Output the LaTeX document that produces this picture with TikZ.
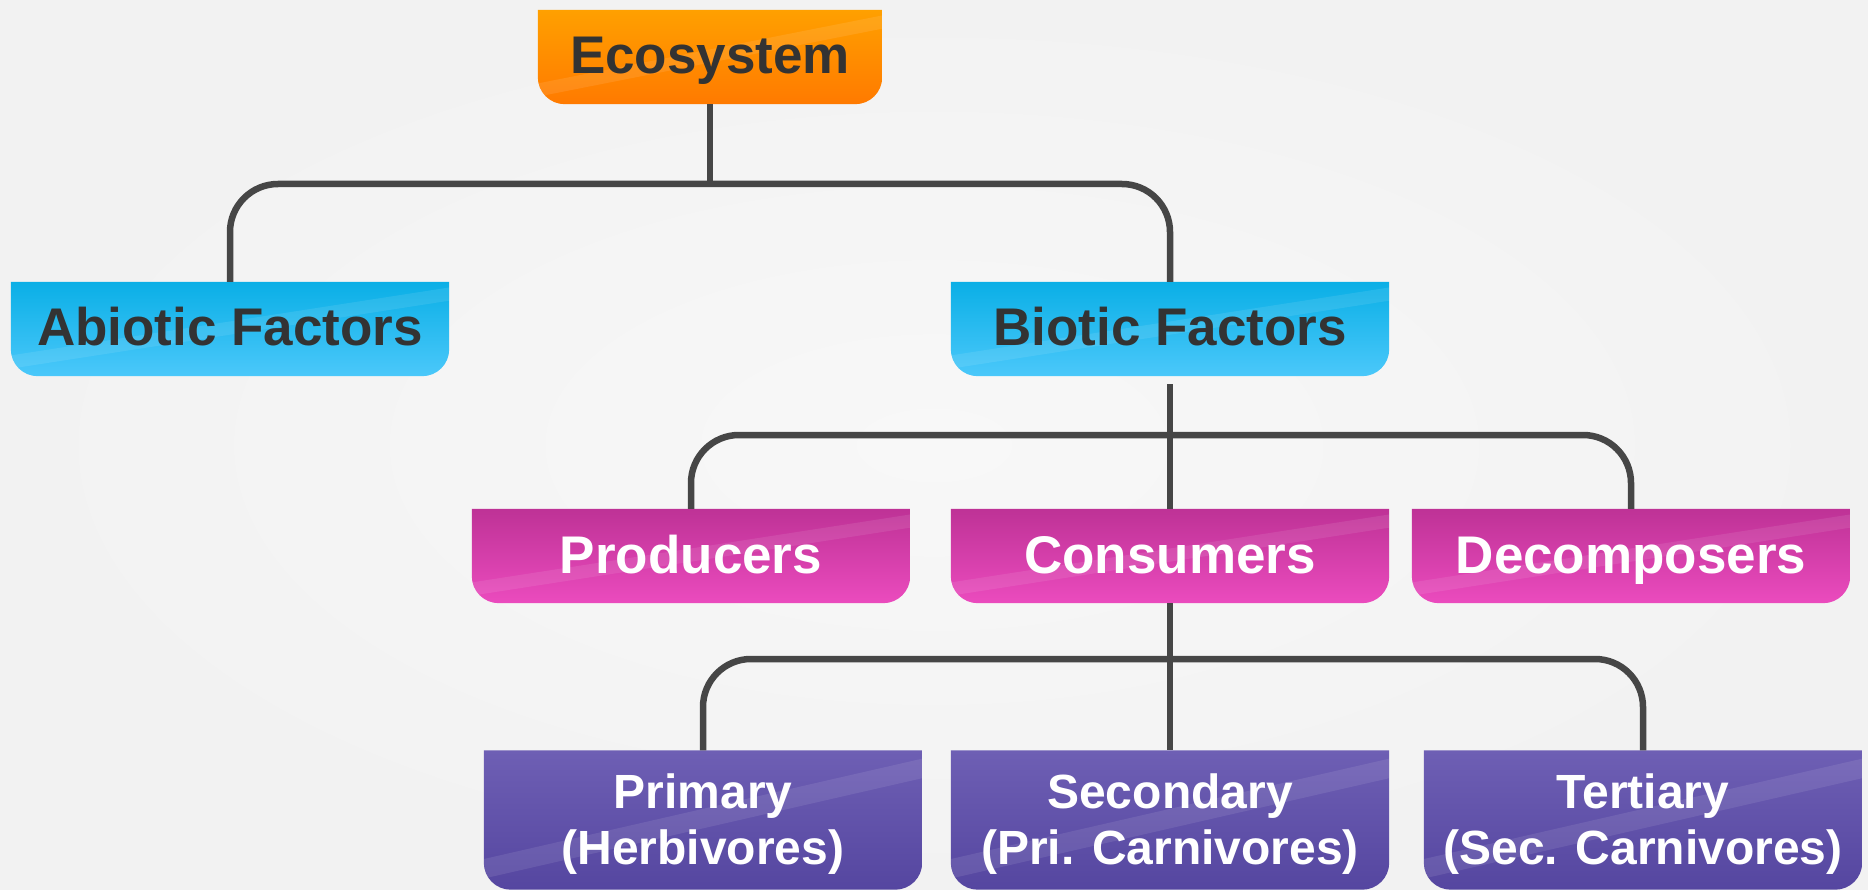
\documentclass[tikz,border=0pt]{standalone}
\usepackage{fontspec}
\setmainfont{Liberation Sans}
\usetikzlibrary{backgrounds,calc}

\definecolor{pagegray}{HTML}{F2F2F2}
\definecolor{pagelight}{HTML}{F8F8F8}
\definecolor{linkgray}{HTML}{464646}
\definecolor{textdark}{HTML}{333333}
\definecolor{orangetop}{HTML}{FFA000}
\definecolor{orangebot}{HTML}{FF7A00}
\definecolor{bluetop}{HTML}{0AAFE6}
\definecolor{bluebot}{HTML}{4BC8FA}
\definecolor{pinktop}{HTML}{BE3296}
\definecolor{pinkbot}{HTML}{EB4BBE}
\definecolor{violettop}{HTML}{6E5FB4}
\definecolor{violetbot}{HTML}{5546A0}

% box with square top and rounded bottom corners
\newcommand{\tagbox}[3]{%
	\begin{scope}
		\clip (#1.north west) -- (#1.north east)
			-- ([yshift=27pt]#1.south east) arc[start angle=0, end angle=-90, radius=27pt]
			-- ([xshift=27pt]#1.south west) arc[start angle=270, end angle=180, radius=27pt]
			-- cycle;
		\shade[top color=#2, bottom color=#3] (#1.north west) rectangle (#1.south east);
		\fill[white, opacity=.09]
			($(#1.south west)!.08!(#1.north west)$) -- ($(#1.south east)!.80!(#1.north east)$)
			-- ($(#1.south east)!.94!(#1.north east)$) -- ($(#1.south west)!.22!(#1.north west)$) -- cycle;
	\end{scope}
}

\begin{document}
\begin{tikzpicture}[
	x=1pt, y=1pt,
	box/.style={minimum width=438pt, minimum height=94pt, inner sep=0pt, align=center,
		text height=38pt, text depth=4pt, font=\fontsize{53}{60}\selectfont\bfseries},
	dark/.style={box, text=textdark},
	light/.style={box, text=white},
	twoline/.style={light, minimum height=139pt, text height=, text depth=2pt,
		font=\fontsize{48}{56}\selectfont\bfseries},
	link/.style={draw=linkgray, line width=6.5pt, rounded corners=48pt}
]
	\useasboundingbox (0,0) rectangle (1868,-890);

	\node[dark, minimum width=344pt] (eco) at (710,-57) {Ecosystem};
	\node[dark] (abiotic) at (230,-329) {Abiotic Factors};
	\node[dark] (biotic) at (1170,-329) {Biotic Factors};

	\node[light] (producers) at (691,-556) {Producers};
	\node[light] (consumers) at (1170,-556) {Consumers};
	\node[light] (decomposers) at (1631,-556) {Decomposers};

	\node[twoline] (primary) at (703,-820) {Primary\\(Herbivores)};
	\node[twoline] (secondary) at (1170,-820) {Secondary\\(Pri. Carnivores)};
	\node[twoline] (tertiary) at (1643,-820) {Tertiary\\(Sec. Carnivores)};

	\coordinate (eco bar) at (710,-184);
	\coordinate (biotic bar) at (1170,-435);
	\coordinate (consumers bar) at (1170,-659);

	\draw[link] (eco.south) -- (eco bar);
	\draw[link] (abiotic.north) |- (eco bar) -| (biotic.north);

	\draw[link] ([yshift=-8pt]biotic.south) -- (consumers.north);
	\draw[link] (producers.north) |- (biotic bar) -| (decomposers.north);

	\draw[link] (consumers.south) -- (secondary.north);
	\draw[link] (primary.north) |- (consumers bar) -| (tertiary.north);

	\begin{scope}[on background layer]
		\shade[inner color=pagelight, outer color=pagegray] (0,0) rectangle (1868,-890);
		\tagbox{eco}{orangetop}{orangebot}
		\tagbox{abiotic}{bluetop}{bluebot}
		\tagbox{biotic}{bluetop}{bluebot}
		\foreach \n in {producers,consumers,decomposers}
			{\tagbox{\n}{pinktop}{pinkbot}}
		\foreach \n in {primary,secondary,tertiary}
			{\tagbox{\n}{violettop}{violetbot}}
	\end{scope}
\end{tikzpicture}
\end{document}
